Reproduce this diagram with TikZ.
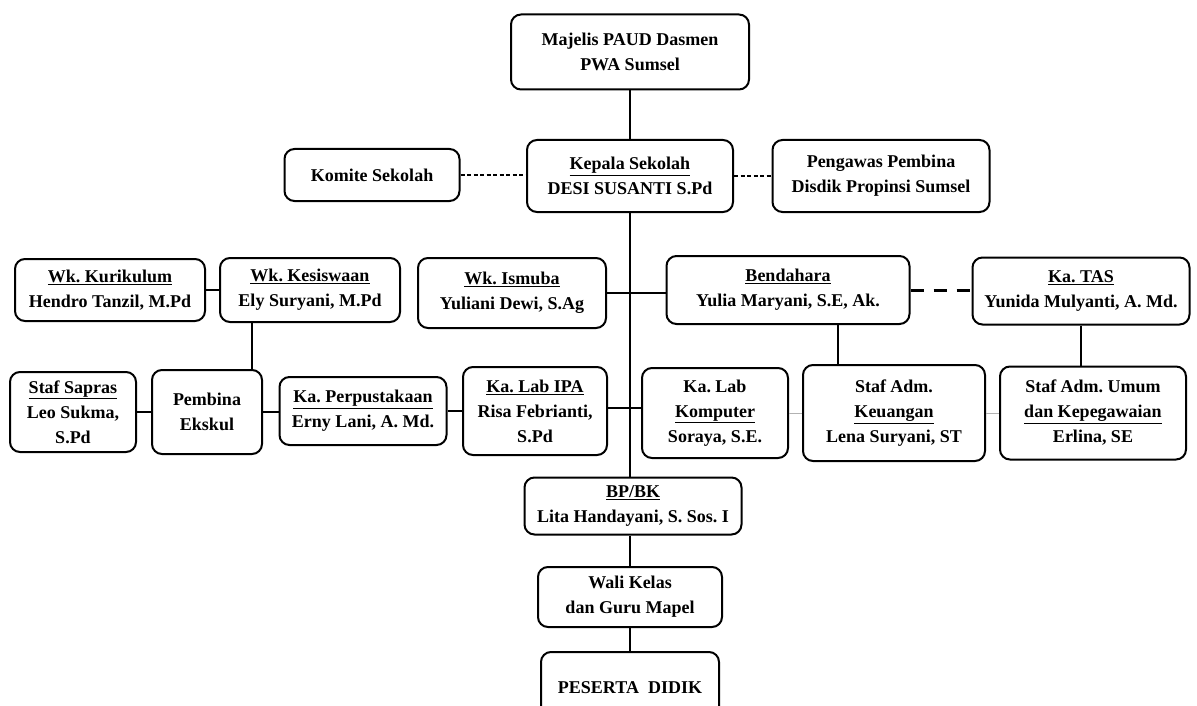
\documentclass[tikz,border=0pt]{standalone}
\usepackage{fontspec}
\setmainfont{Liberation Serif}
\frenchspacing
\begin{document}
\begin{tikzpicture}[x=1pt, y=-1pt,
  main/.style = {draw, fill=white, line width=2pt, rounded corners=10pt, align=center,
    inner sep=2pt, font=\fontsize{18}{25}\selectfont\bfseries},
  link/.style = {line width=1.8pt},
  dots/.style = {line width=1.6pt, dash pattern=on 4pt off 2.5pt},
  longdash/.style = {line width=3pt, dash pattern=on 13pt off 10pt},
  faint/.style = {line width=0.8pt, gray!60}]
\useasboundingbox (0,0) rectangle (1197,706);
\clip (0,0) rectangle (1197,706);
\fill[white] (0,0) rectangle (1197,706);

\node[main, minimum width=238pt, minimum height=75pt] (1) at (630,52) {Majelis PAUD Dasmen\\PWA Sumsel};

\node[main, minimum width=175pt, minimum height=52pt] (2) at (372,175) {Komite Sekolah};
\node[main, minimum width=206pt, minimum height=72pt] (3) at (630,176) {\underline{Kepala Sekolah}\\DESI SUSANTI S.Pd};
\node[main, minimum width=217pt, minimum height=72pt] (4) at (881,176) {Pengawas Pembina\\Disdik Propinsi Sumsel};

\node[main, minimum width=190pt, minimum height=62pt] (5) at (110,290) {\underline{Wk. Kurikulum}\\Hendro Tanzil, M.Pd};
\node[main, minimum width=180pt, minimum height=64pt] (6) at (310,290) {\underline{Wk. Kesiswaan}\\Ely Suryani, M.Pd};
\node[main, minimum width=188pt, minimum height=70pt] (7) at (512,293) {\underline{Wk. Ismuba}\\Yuliani Dewi, S.Ag};
\node[main, minimum width=243pt, minimum height=68pt] (8) at (788,290) {\underline{Bendahara}\\Yulia Maryani, S.E, Ak.};
\node[main, minimum width=217pt, minimum height=67pt] (9) at (1081,291) {\underline{Ka. TAS}\\Yunida Mulyanti, A. Md.};

\node[main, minimum width=126pt, minimum height=80pt] (10) at (73,412) {\underline{Staf Sapras}\\Leo Sukma,\\S.Pd};
\node[main, minimum width=110pt, minimum height=84pt] (11) at (207,412) {Pembina\\Ekskul};
\node[main, minimum width=167pt, minimum height=68pt] (12) at (363,411) {\underline{Ka. Perpustakaan}\\Erny Lani, A. Md.};
\node[main, minimum width=144pt, minimum height=88pt] (13) at (535,411) {\underline{Ka. Lab IPA}\\Risa Febrianti,\\S.Pd};
\node[main, minimum width=146pt, minimum height=90pt] (14) at (715,413) {Ka. Lab\\\underline{Komputer}\\Soraya, S.E.};
\node[main, minimum width=182pt, minimum height=96pt] (15) at (894,413) {Staf Adm.\\\underline{Keuangan}\\Lena Suryani, ST};
\node[main, minimum width=186pt, minimum height=93pt] (16) at (1093,413) {Staf Adm. Umum\\\underline{dan Kepegawaian}\\Erlina, SE};

\node[main, minimum width=217pt, minimum height=57pt] (17) at (633,506) {\underline{BP/BK}\\Lita Handayani, S. Sos. I};
\node[main, minimum width=184pt, minimum height=60pt] (18) at (630,597) {Wali Kelas\\dan Guru Mapel};
\node[main, minimum width=178pt, minimum height=72pt] (19) at (630,688) {PESERTA\ \ DIDIK};

% garis komando
\draw[link] (1) -- (3);
\draw[link] (3.south) -- (3.south |- 17.north);
\draw[link] (17.south -| 18.north) -- (18.north);
\draw[link] (18) -- (19);

% garis koordinasi
\draw[dots] (2.east) -- (3.west |- 2.east);
\draw[dots] (3.east) -- (4.west);
\draw[longdash] (8.east) -- (9.west |- 8.east);

\draw[link] (5.east) -- (6.west |- 5.east);
\draw[link] (7.east) -- (8.west |- 7.east);
\draw[link] ([xshift=-58pt]6.south) -- ([xshift=-58pt]6.south |- 11.north);
\draw[link] ([xshift=50pt]8.south) -- ([xshift=50pt]8.south |- 15.north);
\draw[link] (9.south) -- (9.south |- 16.north);

\draw[link] (10.east) -- (11.west |- 10.east);
\draw[link] (11.east) -- (12.west |- 11.east);
\draw[link] (12.east) -- (13.west |- 12.east);
\draw[link] ([yshift=3pt]13.east) -- ([yshift=3pt]14.west |- 13.east);
\draw[faint] (14.east) -- (15.west);
\draw[faint] (15.east) -- (16.west);

\end{tikzpicture}
\end{document}
